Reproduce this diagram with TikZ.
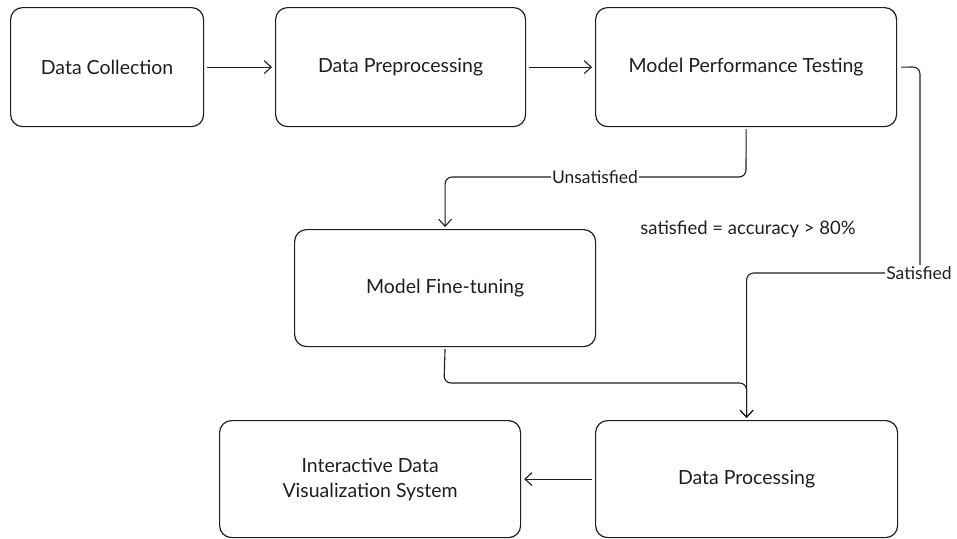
\documentclass[tikz,border=0pt]{standalone}
\usepackage{fontspec}
\setmainfont{Lato}
\usetikzlibrary{arrows.meta}
\definecolor{ink}{HTML}{1E1E1E}
\begin{document}
\begin{tikzpicture}[x=1pt,y=-1pt,
  stage/.style={draw=ink, line width=1.2pt, rounded corners=12pt,
    anchor=north west, inner sep=0pt, align=center, text=ink,
    font=\fontsize{19.5}{25}\selectfont},
  link/.style={draw=ink, line width=1.1pt, rounded corners=7pt,
    -{Straight Barb[length=7pt,width=13pt,line width=1.1pt]}},
  tag/.style={fill=white, inner sep=1.5pt, text=ink,
    font=\fontsize{17.5}{20}\selectfont}]
\useasboundingbox (0,0) rectangle (957,538);

% process stages
\node[stage, minimum width=193pt, minimum height=119pt] (dc)  at (10,7)    {Data Collection};
\node[stage, minimum width=250pt, minimum height=119pt] (dp)  at (275,7)   {Data Preprocessing};
\node[stage, minimum width=301pt, minimum height=119pt] (mpt) at (595,7)   {Model Performance Testing};
\node[stage, minimum width=301pt, minimum height=117pt] (mft) at (294,229) {Model Fine-tuning};
\node[stage, minimum width=302pt, minimum height=117pt] (dpr) at (595,420) {Data Processing};
\node[stage, minimum width=301pt, minimum height=117pt] (ivs) at (219,420) {Interactive Data\\Visualization System};

% condition note
\node[text=ink, font=\fontsize{18.5}{20}\selectfont] (note) at (748,229) {satisfied = accuracy > 80\%};

% bends of the routed connectors
\coordinate (ubend) at (746,177);
\coordinate (sout)  at (920,67);
\coordinate (sbend) at (920,273);
\coordinate (fbend) at (444,383);

% straight connectors
\draw[link, shorten <=3pt, shorten >=3pt] (dc.east) -- (dp.west);
\draw[link, shorten <=3pt, shorten >=3pt] (dp.east) -- (mpt.west);
\draw[link, shorten <=3pt, shorten >=3pt] (dpr.west) -- (ivs.east);

% unsatisfied branch
\draw[link, shorten <=2pt, shorten >=2pt] (mpt.south) -- (ubend) -| (mft.north);
\node[tag] (unsat) at (595,177) {Unsatisfied};

% satisfied branch
\draw[link, shorten <=4pt, shorten >=2pt] (mpt.east) -- (sout) -- (sbend) -| (dpr.north);
\node[tag, inner sep=1pt] (sat) at (919,273) {Satisfied};

% fine-tuned model rejoins the processing stage
\draw[link, shorten <=2pt, shorten >=2pt] (mft.south) -- (fbend) -| (dpr.north);
\end{tikzpicture}
\end{document}
